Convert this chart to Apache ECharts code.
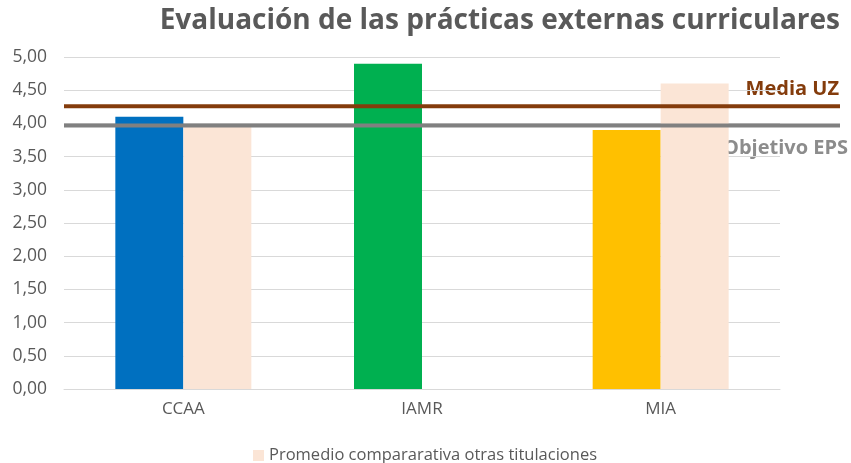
<!DOCTYPE html>
<html>
<head>
<meta charset="utf-8">
<script src="https://cdn.jsdelivr.net/npm/echarts@6/dist/echarts.min.js"></script>
<style>
  html, body { margin: 0; padding: 0; background: #fff; }
  #chart { width: 851px; height: 463px; }
</style>
</head>
<body>
<div id="chart"></div>
<script>
// datos
const categorias = ['CCAA', 'IAMR', 'MIA'];
const valoresTitulacion = [4.10, 4.90, 3.90];
const coloresTitulacion = ['#0070C0', '#00B050', '#FFC000'];
const valoresPromedio = [3.95, null, 4.60];
const mediaUZ = [4.26, 4.26];
const objetivoEPS = [3.97, 3.97];

const chart = echarts.init(document.getElementById('chart'));
const fontFam = '"Open Sans", "Noto Sans", sans-serif';

const option = {
  animation: false,
  backgroundColor: '#fff',
  title: {
    text: 'Evaluación de las prácticas externas curriculares',
    right: 6,
    top: 2,
    textStyle: { fontFamily: fontFam, fontSize: 28, fontWeight: 'bold', color: '#595959' }
  },
  legend: {
    data: ['Promedio compararativa otras titulaciones'],
    top: 442,
    left: 248,
    itemWidth: 11,
    itemHeight: 11,
    itemGap: 5,
    icon: 'rect',
    textStyle: { fontFamily: fontFam, fontSize: 16.5, color: '#595959' }
  },
  grid: [
    { left: 64, right: 71, top: 57, bottom: 74 },
    { left: 64, right: 11, top: 57, bottom: 74 }
  ],
  xAxis: [
    {
      type: 'category',
      gridIndex: 0,
      data: categorias,
      axisLine: { lineStyle: { color: '#d9d9d9' } },
      axisTick: { show: false },
      axisLabel: { fontFamily: fontFam, fontSize: 17, color: '#595959', margin: 12 }
    },
    { type: 'value', gridIndex: 1, min: 0, max: 1, show: false }
  ],
  yAxis: [
    {
      type: 'value',
      gridIndex: 0,
      min: 0,
      max: 5,
      interval: 0.5,
      axisLine: { show: false },
      axisTick: { show: false },
      splitLine: { lineStyle: { color: '#d9d9d9' } },
      axisLabel: {
        fontFamily: fontFam, fontSize: 17.5, color: '#595959', margin: 17,
        formatter: v => v.toFixed(2).replace('.', ',')
      }
    },
    { type: 'value', gridIndex: 1, min: 0, max: 5, show: false }
  ],
  series: [
    {
      name: 'Titulación',
      type: 'bar',
      barWidth: 68,
      barGap: '0%',
      data: valoresTitulacion.map((v, i) => ({ value: v, itemStyle: { color: coloresTitulacion[i] } }))
    },
    {
      name: 'Promedio compararativa otras titulaciones',
      type: 'bar',
      barWidth: 68,
      barGap: '0%',
      itemStyle: { color: '#FBE5D6' },
      data: valoresPromedio
    },
    {
      name: 'Media UZ',
      type: 'line',
      xAxisIndex: 1,
      yAxisIndex: 1,
      symbol: 'none',
      lineStyle: { color: '#843C0C', width: 4 },
      data: mediaUZ.map((v, i) => [i, v]),
      z: 5
    },
    {
      name: 'Objetivo EPS',
      type: 'line',
      xAxisIndex: 1,
      yAxisIndex: 1,
      symbol: 'none',
      lineStyle: { color: '#808080', width: 4 },
      data: objetivoEPS.map((v, i) => [i, v]),
      z: 5
    }
  ],
  graphic: [
    {
      type: 'text', right: 12, top: 79,
      style: { text: 'Media UZ', fill: '#843C0C', font: 'bold 20px ' + fontFam }
    },
    {
      type: 'text', right: 3, top: 138,
      style: { text: 'Objetivo EPS', fill: '#8C8C8C', font: 'bold 20px ' + fontFam }
    }
  ]
};

chart.setOption(option);
</script>
</body>
</html>
